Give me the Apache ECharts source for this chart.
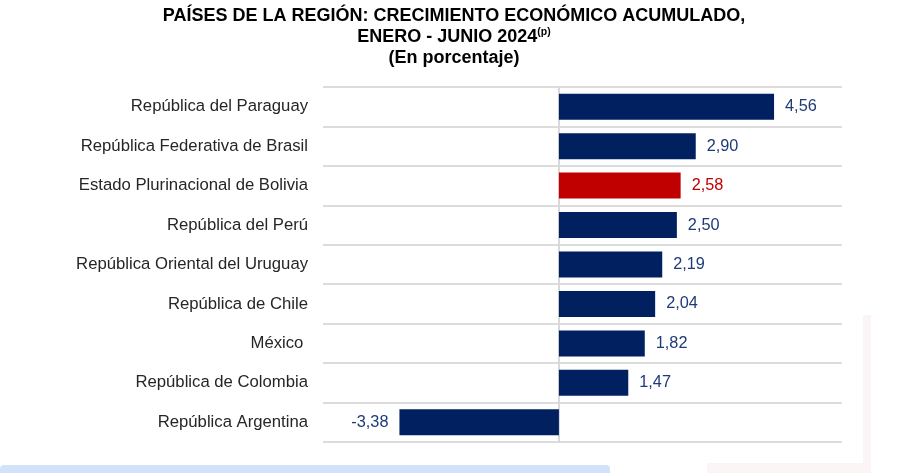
<!DOCTYPE html>
<html>
<head>
<meta charset="utf-8">
<script src="https://cdn.jsdelivr.net/npm/echarts@6/dist/echarts.min.js"></script>
<style>html,body{margin:0;padding:0;background:#fff}#c{width:898px;height:473px}</style>
</head>
<body>
<div id="c"></div>
<script>
var categories = [
  'República del Paraguay',
  'República Federativa de Brasil',
  'Estado Plurinacional de Bolivia',
  'República del Perú',
  'República Oriental del Uruguay',
  'República de Chile',
  'México ',
  'República de Colombia',
  'República Argentina'
];
var values = [4.56, 2.90, 2.58, 2.50, 2.19, 2.04, 1.82, 1.47, -3.38];
var highlight = 'Estado Plurinacional de Bolivia';

var NAVY = '#002060', RED = '#c00000', LABEL_NAVY = '#1f3a78';
var chart = echarts.init(document.getElementById('c'), null, {renderer: 'canvas'});
var data = values.map(function (v, i) {
  var hl = categories[i] === highlight;
  return {
    value: v,
    itemStyle: {color: hl ? RED : NAVY},
    label: {
      color: hl ? RED : LABEL_NAVY,
      position: v < 0 ? 'left' : 'right'
    }
  };
});
chart.setOption({
  animation: false,
  backgroundColor: '#ffffff',
  title: {
    text: 'PAÍSES DE LA REGIÓN: CRECIMIENTO ECONÓMICO ACUMULADO,\nENERO - JUNIO 2024{sup|(p)}\n(En porcentaje)',
    left: 449, top: 1, textAlign: 'center',
    textStyle: {
      fontFamily: 'Liberation Sans, Arial', fontWeight: 'bold', fontSize: 18,
      color: '#000', lineHeight: 21, align: 'center',
      rich: {sup: {fontSize: 10.5, fontWeight: 'bold', fontFamily: 'Liberation Sans, Arial', color: '#000', verticalAlign: 'top', lineHeight: 16}}
    }
  },
  grid: {left: 323, top: 87, width: 519, height: 355, containLabel: false},
  xAxis: {
    type: 'value', min: -5, max: 6, interval: 1,
    axisLine: {show: false}, axisTick: {show: false}, axisLabel: {show: false},
    splitLine: {show: false}
  },
  yAxis: {
    type: 'category', data: categories, inverse: true,
    axisLine: {show: true, onZero: true, lineStyle: {color: '#d9d9d9', width: 2}},
    axisTick: {show: false},
    axisLabel: {
      margin: 15,
      fontFamily: 'Liberation Sans, Arial', fontSize: 16.7, color: '#262626'
    },
    splitLine: {show: true, lineStyle: {color: '#dcdcdc', width: 2}}
  },
  series: [{
    type: 'bar', data: data, barWidth: 26,
    label: {
      show: true, distance: 11,
      fontFamily: 'Liberation Sans, Arial', fontSize: 16.3,
      formatter: function (p) { return p.value.toFixed(2).replace('.', ','); }
    }
  }],
  graphic: [
    {type: 'rect', shape: {x: 0, y: 465, width: 610, height: 12, r: 4}, style: {fill: '#d3e2fb'}, z: -1},
    {type: 'rect', shape: {x: 863, y: 315, width: 8, height: 158}, style: {fill: '#fbf6f5'}, z: -1},
    {type: 'rect', shape: {x: 707, y: 463, width: 164, height: 10}, style: {fill: '#fbf6f5'}, z: -1}
  ]
});
</script>
</body>
</html>
